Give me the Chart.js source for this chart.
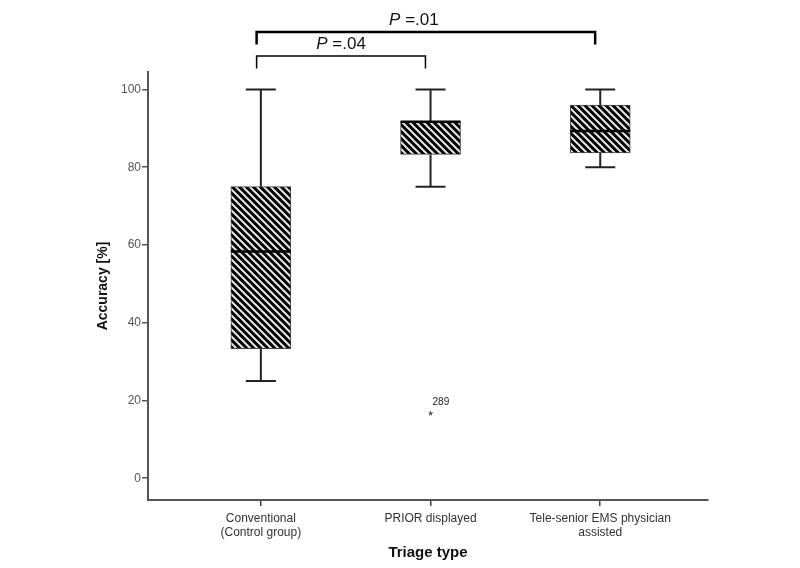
<!DOCTYPE html>
<html>
<head>
<meta charset="utf-8">
<script src="https://cdn.jsdelivr.net/npm/chart.js@4/dist/chart.umd.min.js"></script>
<style>
  html, body { margin: 0; padding: 0; background: #fff; }
  #wrap { width: 800px; height: 568px; }
</style>
</head>
<body>
<div id="wrap"><canvas id="chart"></canvas></div>
<script>
// box plot summary per triage type
const categories = [["Conventional", "(Control group)"], "PRIOR displayed", ["Tele-senior EMS physician", "assisted"]];
const mins = [25, 75, 80];
const q1s = [33.3, 83.3, 83.7];
const medians = [58.3, 91.7, 89.3];
const q3s = [75, 91.7, 96];
const maxs = [100, 100, 100];

// outlier (category index, value, case label)
const outlierCats = [1];
const outlierValues = [16.7];
const outlierLabels = ["289"];

// significance brackets above the plot
const bracketFrom = [0, 0];
const bracketTo = [2, 1];
const bracketTexts = [".01", ".04"];
const bracketLevels = [114.8, 108.6];

const yTicks = [0, 20, 40, 60, 80, 100];

const FONT = "'Liberation Sans', Arial, sans-serif";

function stripePattern() {
  const n = 7;
  const c = document.createElement("canvas");
  c.width = n;
  c.height = n;
  const g = c.getContext("2d");
  g.fillStyle = "#000";
  g.fillRect(0, 0, n, n);
  g.strokeStyle = "#e6e6e6";
  g.lineWidth = 2;
  g.beginPath();
  g.moveTo(-1, -1); g.lineTo(n + 1, n + 1);
  g.moveTo(-n - 1, -1); g.lineTo(1, n + 1);
  g.moveTo(n - 1, -1); g.lineTo(2 * n + 1, n + 1);
  g.stroke();
  return g.createPattern(c, "repeat");
}

const boxPlugin = {
  id: "boxParts",
  afterDatasetsDraw(chart) {
    const { ctx, scales: { x, y } } = chart;
    ctx.save();
    // whiskers + medians
    categories.forEach((_, i) => {
      const cx = x.getPixelForValue(i);
      const half = 30;
      const cap = 15;
      ctx.strokeStyle = "#222";
      ctx.lineWidth = 2;
      ctx.beginPath();
      ctx.moveTo(cx, y.getPixelForValue(q3s[i]));
      ctx.lineTo(cx, y.getPixelForValue(maxs[i]));
      ctx.moveTo(cx - cap, y.getPixelForValue(maxs[i]));
      ctx.lineTo(cx + cap, y.getPixelForValue(maxs[i]));
      ctx.moveTo(cx, y.getPixelForValue(q1s[i]));
      ctx.lineTo(cx, y.getPixelForValue(mins[i]));
      ctx.moveTo(cx - cap, y.getPixelForValue(mins[i]));
      ctx.lineTo(cx + cap, y.getPixelForValue(mins[i]));
      ctx.stroke();
      ctx.strokeStyle = "#000";
      ctx.lineWidth = 2.5;
      ctx.beginPath();
      ctx.moveTo(cx - half, y.getPixelForValue(medians[i]));
      ctx.lineTo(cx + half, y.getPixelForValue(medians[i]));
      ctx.stroke();
    });

    // outliers
    outlierCats.forEach((c, k) => {
      const px = x.getPixelForValue(c);
      const py = y.getPixelForValue(outlierValues[k]);
      ctx.fillStyle = "#222";
      ctx.font = "13px " + FONT;
      ctx.textAlign = "center";
      ctx.textBaseline = "middle";
      ctx.fillText("*", px, py + 3);
      ctx.font = "10px " + FONT;
      ctx.textAlign = "left";
      ctx.fillText(outlierLabels[k], px + 2, py - 11);
    });

    // brackets
    bracketFrom.forEach((from, k) => {
      const x1 = x.getPixelForValue(from - 0.025);
      const x2 = x.getPixelForValue(bracketTo[k] - 0.03);
      const yTop = y.getPixelForValue(bracketLevels[k]);
      const yEnd = y.getPixelForValue(bracketLevels[k] - 3.2);
      ctx.strokeStyle = "#000";
      ctx.lineWidth = k === 0 ? 2.5 : 1.5;
      ctx.beginPath();
      ctx.moveTo(x1, yEnd);
      ctx.lineTo(x1, yTop);
      ctx.lineTo(x2, yTop);
      ctx.lineTo(x2, yEnd);
      ctx.stroke();

      const cx = k === 0 ? (x1 + x2) / 2 - 12 : (x1 + x2) / 2;
      ctx.textBaseline = "alphabetic";
      ctx.fillStyle = "#111";
      ctx.font = "italic 17px " + FONT;
      const pW = ctx.measureText("P ").width;
      ctx.font = "17px " + FONT;
      const rest = "=" + bracketTexts[k];
      const rW = ctx.measureText(rest).width;
      const start = cx - (pW + rW) / 2;
      ctx.textAlign = "left";
      ctx.font = "italic 17px " + FONT;
      ctx.fillText("P", start, yTop - 7);
      ctx.font = "17px " + FONT;
      ctx.fillText(rest, start + pW, yTop - 7);
    });
    ctx.restore();
  }
};

new Chart(document.getElementById("chart"), {
  type: "bar",
  data: {
    datasets: [
      {
        data: categories.map((_, i) => ({ x: i, y: [q1s[i], q3s[i]] })),
        backgroundColor: stripePattern(),
        borderColor: "#444",
        borderWidth: 1,
        borderSkipped: false,
        barThickness: 60
      }
    ]
  },
  options: {
    responsive: true,
    maintainAspectRatio: false,
    animation: false,
    layout: { padding: { top: 72, right: 92, bottom: 0, left: 0 } },
    plugins: { legend: { display: false }, tooltip: { enabled: false } },
    scales: {
      x: {
        type: "linear",
        offset: false,
        min: -0.665,
        max: 2.635,
        afterBuildTicks: (s) => { s.ticks = categories.map((_, i) => ({ value: i })); },
        afterFit: (s) => { s.height = 68; },
        grid: { display: true, offset: false, drawOnChartArea: false, drawTicks: true, tickLength: 6, color: "#444", lineWidth: 1.5 },
        border: { display: true, color: "#555", width: 2 },
        ticks: {
          autoSkip: false,
          maxRotation: 0,
          padding: 5,
          color: "#333",
          font: { family: FONT, size: 12 },
          callback: (v) => categories[v]
        },
        title: {
          display: true,
          text: "Triage type",
          color: "#111",
          font: { family: FONT, size: 15, weight: "bold" },
          padding: { top: 0, bottom: 6 }
        }
      },
      y: {
        min: -5.6,
        max: 104.5,
        afterBuildTicks: (s) => { s.ticks = yTicks.map((v) => ({ value: v })); },
        afterFit: (s) => { s.width = 148; },
        grid: { display: true, drawOnChartArea: false, drawTicks: true, tickLength: 6, color: "#555", lineWidth: 1.5 },
        border: { display: true, color: "#555", width: 2 },
        ticks: {
          padding: 1,
          color: "#555",
          font: { family: FONT, size: 12 }
        },
        title: {
          display: true,
          text: "Accuracy [%]",
          color: "#111",
          font: { family: FONT, size: 14, weight: "bold" },
          padding: { top: 95, bottom: 0 }
        }
      }
    }
  },
  plugins: [boxPlugin]
});
</script>
</body>
</html>
